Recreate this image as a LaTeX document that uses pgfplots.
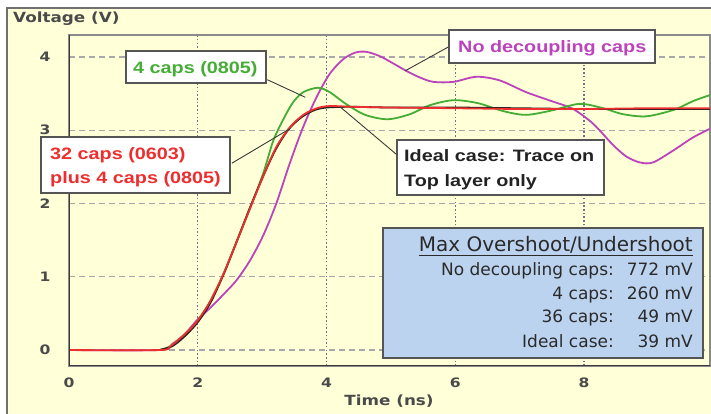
\documentclass[border=0pt]{standalone}
\usepackage{fontspec}
\setmainfont{DejaVu Sans}
\newfontfamily\lblfont{DejaVu Sans}[FakeStretch=1.2]
\newfontfamily\annfont{Liberation Sans}[FakeStretch=1.2]
\usepackage{pgfplots}
\pgfplotsset{compat=1.18}
\definecolor{bgy}{HTML}{FFFFD8}
\definecolor{framegray}{HTML}{707070}
\definecolor{axisgray}{HTML}{8A8A8A}
\definecolor{darkaxis}{HTML}{3A3A3A}
\definecolor{tickgray}{HTML}{4A4A4A}
\definecolor{cred}{HTML}{EE2E2E}
\definecolor{cgreen}{HTML}{45AD35}
\definecolor{cmag}{HTML}{BB44BB}
\definecolor{cblack}{HTML}{222222}
\definecolor{boxblue}{HTML}{BCD3EF}
\definecolor{boxborder}{HTML}{555555}
\definecolor{boxtext}{HTML}{2A2A2A}
\definecolor{gridx}{HTML}{707088}
\definecolor{gridy}{HTML}{A8A8A8}
\begin{document}
\begin{tikzpicture}[x=1pt,y=1pt]
\useasboundingbox (0,0) rectangle (711,414);
\fill[white] (0,0) rectangle (711,414);
\fill[bgy] (7,0) rectangle (711,406);
\draw[framegray, line width=1.5pt] (7,0) -- (7,406) -- (712,406);
\begin{axis}[
  at={(69pt,48pt)}, anchor=south west,
  scale only axis, width=641pt, height=331pt,
  xmin=0, xmax=9.957, ymin=-0.218, ymax=4.30,
  xtick={0,2,4,6,8}, ytick={0,1,2,3,4},
  major tick length=0pt,
  /pgf/number format/assume math mode=true,
  ticklabel style={font=\lblfont\bfseries\fontsize{13}{13}\selectfont, text=tickgray},
  xticklabel style={anchor=center, yshift=-17pt},
  yticklabel style={anchor=center, xshift=-24pt},
  xmajorgrids, ymajorgrids,
  x grid style={color=gridx, line width=1.2pt, dash pattern=on 1.5pt off 2.2pt},
  y grid style={color=gridy, line width=1.4pt, dash pattern=on 6pt off 4pt},
  axis line style={draw=axisgray, line width=1.2pt},
  clip=true,
]
\addplot[cmag, line width=1.8pt, smooth] coordinates {
(0,0) (1.4,0) (1.6,0.08) (1.8,0.22) (2.0,0.42) (2.2,0.58) (2.4,0.76) (2.6,0.95) (2.81,1.22) (3.02,1.57) (3.22,2.0) (3.43,2.55) (3.64,3.05) (3.85,3.46) (4.05,3.77) (4.26,3.97) (4.45,4.06) (4.62,4.07) (4.83,4.01) (5.04,3.91) (5.24,3.81) (5.45,3.72) (5.66,3.66) (5.97,3.66) (6.33,3.73) (6.69,3.68) (7.1,3.52) (7.52,3.39) (7.83,3.29) (8.14,3.09) (8.45,2.80) (8.66,2.64) (8.87,2.56) (9.07,2.56) (9.38,2.72) (9.69,2.90) (9.957,3.02)
};
\addplot[cgreen, line width=1.8pt, smooth] coordinates {
(1.4,0) (1.57,0.05) (1.78,0.2) (1.98,0.38) (2.19,0.66) (2.40,1.04) (2.60,1.47) (2.81,1.93) (3.02,2.42) (3.17,2.85) (3.33,3.15) (3.48,3.38) (3.64,3.52) (3.87,3.58) (4.05,3.52) (4.3,3.36) (4.6,3.21) (4.95,3.15) (5.3,3.22) (5.6,3.34) (5.97,3.41) (6.35,3.37) (6.75,3.26) (7.1,3.21) (7.5,3.27) (7.93,3.36) (8.3,3.30) (8.6,3.22) (8.97,3.19) (9.4,3.28) (9.7,3.40) (9.957,3.48)
};
\addplot[cblack, line width=1.8pt, smooth] coordinates {
(1.4,0) (1.6,0.05) (1.8,0.19) (2.0,0.38) (2.2,0.65) (2.4,1.03) (2.6,1.47) (2.8,1.92) (3.0,2.34) (3.2,2.72) (3.4,3.00) (3.6,3.17) (3.8,3.27) (4.0,3.31) (4.4,3.32) (5.0,3.31) (6.0,3.31) (7.0,3.30) (8.0,3.29) (9.0,3.29) (9.957,3.29)
};
\addplot[cred, line width=1.8pt, smooth] coordinates {
(0,0) (1.4,0) (1.57,0.05) (1.78,0.2) (1.98,0.38) (2.19,0.66) (2.40,1.04) (2.60,1.47) (2.81,1.93) (3.02,2.38) (3.22,2.77) (3.43,3.04) (3.64,3.21) (3.85,3.30) (4.05,3.33) (4.4,3.32) (5.0,3.31) (6.0,3.30) (7.0,3.29) (8.0,3.29) (9.0,3.30) (9.957,3.30)
};
\draw[darkaxis, line width=2.2pt] (rel axis cs:0,1) -- (rel axis cs:0,0) -- (rel axis cs:1,0);
\draw[darkaxis, line width=0.9pt] (axis cs:3.08,3.69) -- (axis cs:3.67,3.45);
\draw[darkaxis, line width=0.9pt] (axis cs:2.53,2.55) -- (axis cs:3.43,3.02);
\draw[darkaxis, line width=0.9pt] (axis cs:5.90,4.14) -- (axis cs:5.22,3.81);
\draw[darkaxis, line width=0.9pt] (axis cs:5.10,2.66) -- (axis cs:4.21,3.32);
\end{axis}
% axis labels
\node[anchor=west, inner sep=0pt, text=tickgray, font=\lblfont\bfseries\fontsize{14}{14}\selectfont] at (13,395.5) {Voltage (V)};
\node[anchor=center, inner sep=0pt, text=tickgray, font=\lblfont\bfseries\fontsize{14}{14}\selectfont] at (389,12.5) {Time (ns)};
% annotation boxes
\draw[boxborder, line width=1.5pt, fill=white] (126,331) rectangle (266,363);
\node[anchor=base west, inner sep=0pt, text=cgreen, font=\annfont\bfseries\fontsize{16.5}{16.5}\selectfont] at (133,340) {4 caps (0805)};
\draw[boxborder, line width=1.5pt, fill=white] (41,221) rectangle (230,277);
\node[anchor=base west, inner sep=0pt, text=cred, font=\annfont\bfseries\fontsize{16.5}{16.5}\selectfont] at (50,254) {32 caps (0603)};
\node[anchor=base west, inner sep=0pt, text=cred, font=\annfont\bfseries\fontsize{16.5}{16.5}\selectfont] at (50,230) {plus 4 caps (0805)};
\draw[boxborder, line width=1.5pt, fill=white] (449,351) rectangle (655,384);
\node[anchor=base west, inner sep=0pt, text=cmag, font=\annfont\bfseries\fontsize{16.5}{16.5}\selectfont] at (458,361) {No decoupling caps};
\draw[boxborder, line width=1.5pt, fill=white] (397,219) rectangle (604,274);
\node[anchor=base west, inner sep=0pt, text=cblack, font=\annfont\bfseries\fontsize{16.5}{16.5}\selectfont] at (404,252) {Ideal case: Trace on};
\node[anchor=base west, inner sep=0pt, text=cblack, font=\annfont\bfseries\fontsize{16.5}{16.5}\selectfont] at (404,227) {Top layer only};
% overshoot box
\draw[boxborder, line width=1.5pt, fill=boxblue] (383,56) rectangle (703,186);
\node[anchor=base east, inner sep=0pt, text=boxtext, font=\fontsize{20}{20}\selectfont] at (693,162) {\underline{Max Overshoot/Undershoot}};
\begin{scope}[every node/.style={anchor=base east, inner sep=0pt, text=boxtext, font=\fontsize{17}{17}\selectfont}]
\node at (614,138) {No decoupling caps:};
\node at (693,138) {772 mV};
\node at (614,114) {4 caps:};
\node at (693,114) {260 mV};
\node at (614,91) {36 caps:};
\node at (693,91) {49 mV};
\node at (614,66) {Ideal case:};
\node at (693,66) {39 mV};
\end{scope}
\end{tikzpicture}
\end{document}
